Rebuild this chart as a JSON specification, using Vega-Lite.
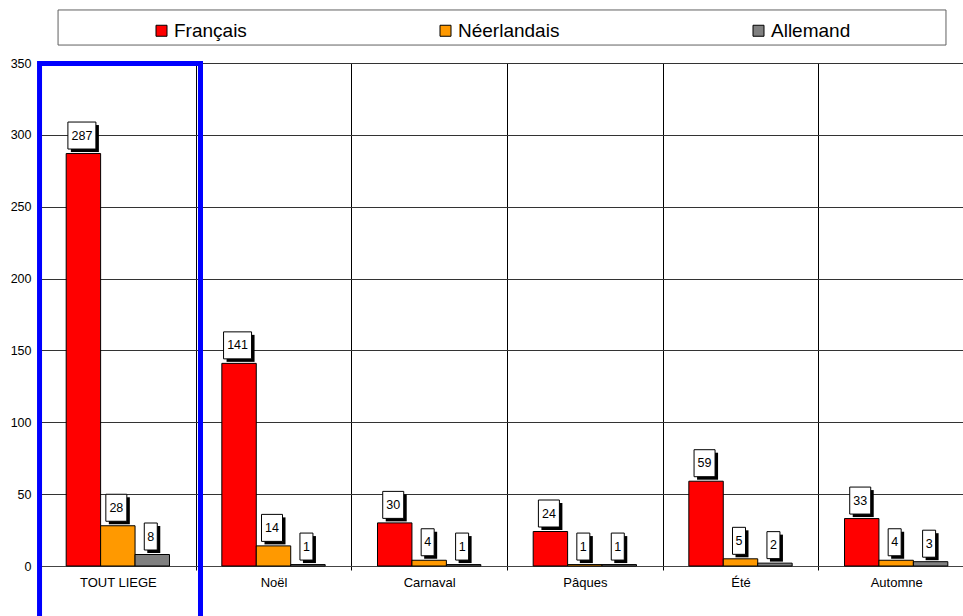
{
  "$schema": "https://vega.github.io/schema/vega-lite/v6.json",
  "autosize": "none",
  "width": 923,
  "height": 503,
  "padding": {"left": 40, "top": 63, "right": 0, "bottom": 50},
  "background": "white",
  "config": {
    "font": "Liberation Sans",
    "view": {"stroke": null},
    "axis": {"labelColor": "black", "labelFont": "Liberation Sans", "labelFontSize": 12.5},
    "axisLeft": {"labelFontSize": 12.5},
    "axisY": {"labelFontSize": 12.5, "labelPadding": 9, "ticks": false, "domain": false, "grid": true, "gridColor": "#333333", "gridOpacity": 1, "title": null}
  },
  "data": {
    "values": [
      {"category": "TOUT LIEGE", "langue": "Français", "value": 287},
      {"category": "TOUT LIEGE", "langue": "Néerlandais", "value": 28},
      {"category": "TOUT LIEGE", "langue": "Allemand", "value": 8},
      {"category": "Noël", "langue": "Français", "value": 141},
      {"category": "Noël", "langue": "Néerlandais", "value": 14},
      {"category": "Noël", "langue": "Allemand", "value": 1},
      {"category": "Carnaval", "langue": "Français", "value": 30},
      {"category": "Carnaval", "langue": "Néerlandais", "value": 4},
      {"category": "Carnaval", "langue": "Allemand", "value": 1},
      {"category": "Pâques", "langue": "Français", "value": 24},
      {"category": "Pâques", "langue": "Néerlandais", "value": 1},
      {"category": "Pâques", "langue": "Allemand", "value": 1},
      {"category": "Été", "langue": "Français", "value": 59},
      {"category": "Été", "langue": "Néerlandais", "value": 5},
      {"category": "Été", "langue": "Allemand", "value": 2},
      {"category": "Automne", "langue": "Français", "value": 33},
      {"category": "Automne", "langue": "Néerlandais", "value": 4},
      {"category": "Automne", "langue": "Allemand", "value": 3}
    ]
  },
  "layer": [
    {
      "data": {"values": [{}]},
      "layer": [
        {
          "mark": {"type": "rect", "fill": null, "fillOpacity": 0, "stroke": "#606060", "strokeWidth": 1},
          "encoding": {
            "x": {"datum": 0.116, "type": "quantitative", "scale": {"domain": [0, 6], "range": [0, 934], "nice": false, "zero": false}, "axis": null},
            "x2": {"datum": 5.82},
            "y": {"datum": 386.9, "type": "quantitative", "scale": {"domain": [0, 350], "nice": false}, "axis": {"title": null, "values": [0, 50, 100, 150, 200, 250, 300, 350], "labelFontSize": 12.5}},
            "y2": {"datum": 362.5}
          }
        },
        {
          "mark": {"type": "rect", "fill": null, "fillOpacity": 0, "stroke": "#0000FF", "strokeWidth": 5},
          "encoding": {
            "x": {"datum": -0.003, "type": "quantitative", "scale": {"domain": [0, 6], "range": [0, 934], "nice": false, "zero": false}, "axis": null},
            "x2": {"datum": 1.031},
            "y": {"datum": 349.7, "type": "quantitative", "scale": {"domain": [0, 350], "nice": false}, "axis": {"title": null, "values": [0, 50, 100, 150, 200, 250, 300, 350], "labelFontSize": 12.5}},
            "y2": {"datum": -40}
          }
        }
      ]
    },
    {
      "encoding": {
        "x": {
          "field": "category",
          "type": "nominal",
          "sort": null,
          "scale": {"range": [0, 934], "paddingInner": 0, "paddingOuter": 0},
          "axis": {
            "title": null,
            "labelAngle": 0,
            "labelFontSize": 13,
            "labelPadding": 6,
            "tickBand": "extent",
            "grid": true,
            "gridColor": "black",
            "gridOpacity": 1,
            "ticks": true,
            "tickColor": "black",
            "tickSize": 4,
            "domain": true,
            "domainColor": "#444444"
          }
        },
        "xOffset": {
          "field": "langue",
          "type": "nominal",
          "sort": ["Français", "Néerlandais", "Allemand"],
          "scale": {"paddingInner": 0, "paddingOuter": 0.76}
        },
        "y": {
          "field": "value",
          "type": "quantitative",
          "scale": {"domain": [0, 350], "nice": false},
          "axis": {"title": null, "values": [0, 50, 100, 150, 200, 250, 300, 350], "labelFontSize": 12.5}
        }
      },
      "layer": [
        {
          "mark": {"type": "bar", "stroke": "black", "strokeWidth": 1},
          "encoding": {
            "color": {
              "field": "langue",
              "type": "nominal",
              "scale": {"domain": ["Français", "Néerlandais", "Allemand"], "range": ["#FF0000", "#FF9900", "#808080"]},
              "legend": {
                "title": null,
                "orient": "none",
                "direction": "horizontal",
                "legendX": 112,
                "legendY": -42,
                "padding": 0,
                "columnPadding": 189,
                "labelFontSize": 19,
                "labelColor": "black",
                "labelOffset": 3,
                "symbolType": "square",
                "symbolSize": 121,
                "symbolStrokeColor": "black",
                "symbolStrokeWidth": 1,
                "symbolOpacity": 1
              }
            }
          }
        },
        {
          "mark": {"type": "point", "filled": true, "fill": "black", "opacity": 1, "size": 4, "yOffset": -18},
          "encoding": {
            "shape": {
              "condition": [
                {"test": "datum.value >= 100", "value": "M-12.5,-10.5H15.5V16.5H-12.5Z"},
                {"test": "datum.value >= 10", "value": "M-9,-10.5H12V16.5H-9Z"}
              ],
              "value": "M-5,-10.5H8V16.5H-5Z"
            }
          }
        },
        {
          "mark": {"type": "point", "filled": true, "fill": "white", "stroke": "black", "strokeWidth": 1, "opacity": 1, "size": 4, "yOffset": -18},
          "encoding": {
            "shape": {
              "condition": [
                {"test": "datum.value >= 100", "value": "M-15.5,-13.5H12.5V13.5H-15.5Z"},
                {"test": "datum.value >= 10", "value": "M-12,-13.5H9V13.5H-12Z"}
              ],
              "value": "M-8,-13.5H5V13.5H-8Z"
            }
          }
        },
        {
          "mark": {"type": "text", "fontSize": 12.5, "color": "black", "baseline": "middle", "align": "center", "dx": -1.5, "yOffset": -18},
          "encoding": {
            "text": {"field": "value", "type": "quantitative"}
          }
        }
      ]
    }
  ],
  "resolve": {"scale": {"x": "independent"}}
}
